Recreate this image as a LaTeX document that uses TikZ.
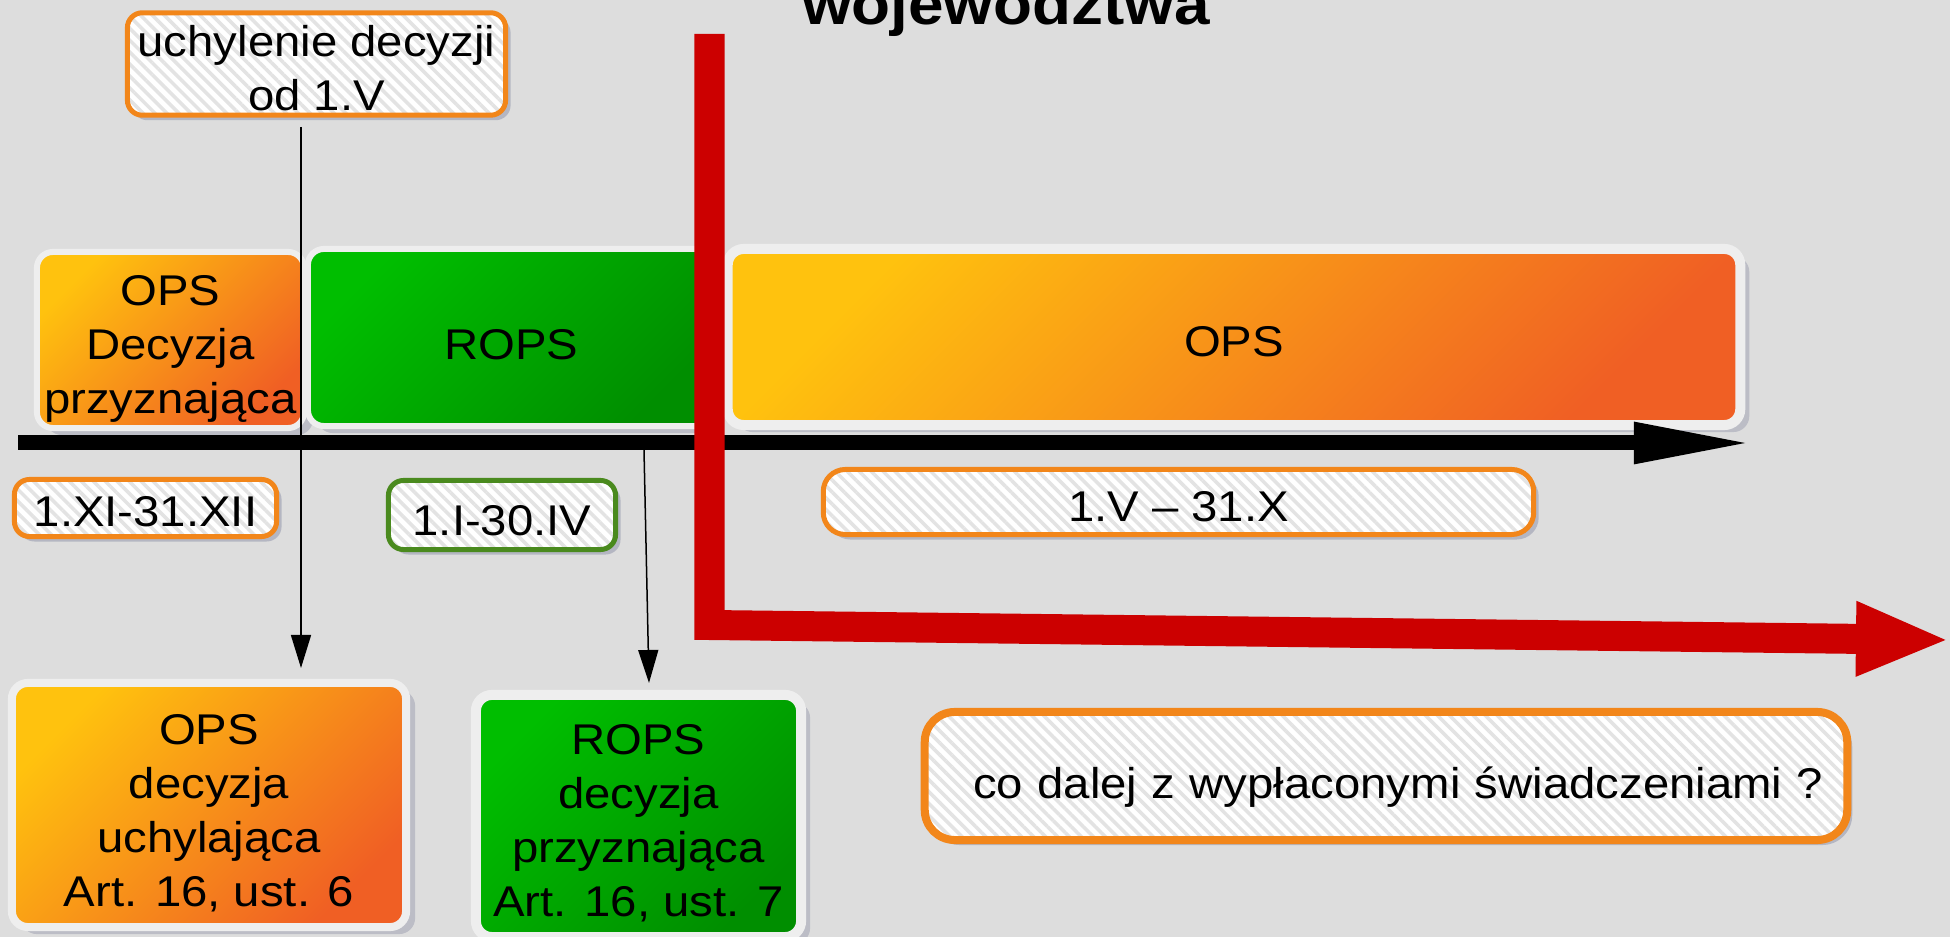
\documentclass[tikz,border=0pt]{standalone}
\usepackage{fontspec}
\setmainfont{Liberation Sans}[FakeStretch=1.1]
\usetikzlibrary{arrows.meta,shadows,patterns.meta}
\definecolor{bgC}{HTML}{DDDDDD}
\definecolor{frameC}{HTML}{EEEEEE}
\definecolor{ylw}{HTML}{FFC20E}
\definecolor{orgR}{HTML}{F05F24}
\definecolor{grnT}{HTML}{00BE00}
\definecolor{grnB}{HTML}{008E00}
\definecolor{orgB}{HTML}{F2861A}
\definecolor{grnL}{HTML}{4A8A1E}
\definecolor{redC}{HTML}{CC0000}
\definecolor{hatchC}{HTML}{E3E3E3}
\definecolor{shadowC}{HTML}{9497AC}
\newcommand{\mystrut}[1]{\rule{0pt}{#1}}
\begin{document}
\begin{tikzpicture}[x=0.01cm,y=-0.01cm,
  bodyfont/.style={font=\fontsize{12.23pt}{15.36pt}\selectfont},
  framebox/.style={rounded corners=0.16cm, draw=frameC, align=center, inner sep=0.04cm, text=black, bodyfont,
    drop shadow={shadow xshift=0.09cm, shadow yshift=-0.07cm, opacity=0.45, fill=shadowC}},
  orgbox/.style={framebox, top color=ylw, bottom color=orgR, shading angle=45},
  grnbox/.style={framebox, top color=grnT, bottom color=grnB, shading angle=45},
  labelbox/.style={rounded corners=0.15cm, line width=0.05cm, draw=orgB, align=center, inner sep=0.04cm, bodyfont,
    drop shadow={shadow xshift=0.05cm, shadow yshift=-0.05cm, opacity=0.55, fill=shadowC},
    preaction={fill=white}, pattern={Lines[angle=-45,distance=2.4pt,line width=1pt]}, pattern color=hatchC},
  thinarr/.style={line width=0.015cm, -{Triangle[length=0.33cm,width=0.2cm]}},
  axisarr/.style={line width=0.15cm, -{Triangle[length=1.19cm,width=0.38cm]}},
  redarr/.style={draw=redC, line width=0.3cm, line join=miter, -{Triangle[length=0.94cm,width=0.68cm,fill=redC]}}
]
\useasboundingbox (0,0) rectangle (1950,937);
\fill[bgC] (0,0) rectangle (1950,937);

% title (partly cut off at top)
\node[font=\fontsize{16.5pt}{20pt}\selectfont\bfseries, anchor=base, inner sep=0pt] (title) at (1006,25) {województwa};

% top row of boxes
\node[orgbox, line width=0.06cm, minimum width=2.67cm, minimum height=1.76cm] (opsA) at (170.5,340) {\mystrut{0.47cm}OPS\\Decyzja\\przyznająca};
\node[grnbox, line width=0.06cm, minimum width=4.07cm, minimum height=1.77cm] (ropsA) at (511.5,337.5) {\mystrut{0.44cm}ROPS};
\node[orgbox, line width=0.1cm, minimum width=10.12cm, minimum height=1.76cm] (opsC) at (1234,337) {\mystrut{0.40cm}OPS};

% time axis
\coordinate (axS) at (18,443);
\coordinate (axE) at (1753,443);
\draw[axisarr] (axS) -- (axE);

% period labels
\node[labelbox, minimum width=3.78cm, minimum height=0.98cm] (uch) at (316.5,64) {\mystrut{0.40cm}uchylenie decyzji\\od 1.V};
\node[labelbox, minimum width=2.62cm, minimum height=0.57cm] (dA) at (145.5,508) {\mystrut{0.38cm}1.XI-31.XII};
\node[labelbox, draw=grnL, minimum width=2.27cm, minimum height=0.69cm] (dB) at (502,515) {\mystrut{0.42cm}1.I-30.IV};
\node[labelbox, rounded corners=0.22cm, minimum width=7.10cm, minimum height=0.65cm] (dC) at (1178.5,502) {\mystrut{0.40cm}1.V – 31.X};
\node[labelbox, line width=0.08cm, rounded corners=0.3cm, minimum height=1.28cm, text width=8.74cm, inner xsep=0.24cm, align=right] (q) at (1386,776) {\mystrut{0.53cm}co dalej z wypłaconymi świadczeniami ?};

% bottom decision boxes
\node[orgbox, line width=0.08cm, minimum width=3.94cm, minimum height=2.44cm] (opsB) at (209,805) {\mystrut{0.47cm}OPS\\decyzja\\uchylająca\\Art. 16, ust. 6};
\node[grnbox, line width=0.1cm, minimum width=3.25cm, minimum height=2.42cm] (ropsB) at (638.5,816) {\mystrut{0.45cm}ROPS\\decyzja\\przyznająca\\Art. 16, ust. 7};

% thin arrows
\coordinate (a1e) at (301,668);
\draw[thinarr, shorten <=0.1cm] (uch.south -| a1e) -- (a1e);
\coordinate (a2s) at (644,450);
\coordinate (a2e) at (649,683);
\draw[thinarr] (a2s) -- (a2e);

% red bent arrow
\coordinate (r1) at (709.5,34);
\coordinate (r2) at (709.5,625);
\coordinate (r3) at (1950,640);
\draw[redarr] (r1) -- (r2) -- (r3);
\end{tikzpicture}
\end{document}
